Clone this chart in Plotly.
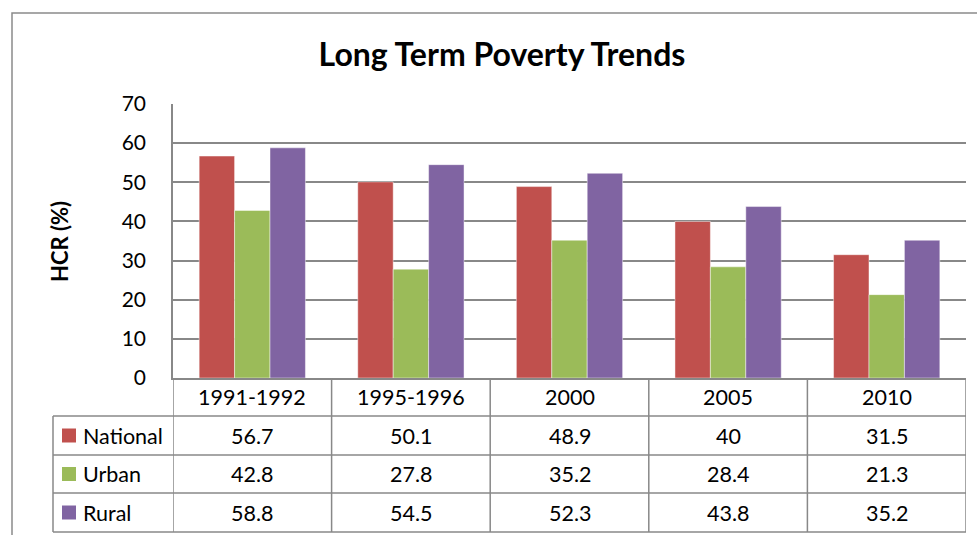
import plotly.graph_objects as go

categories = ["1991-1992", "1995-1996", "2000", "2005", "2010"]
national = [56.7, 50.1, 48.9, 40, 31.5]
urban = [42.8, 27.8, 35.2, 28.4, 21.3]
rural = [58.8, 54.5, 52.3, 43.8, 35.2]
series_names = ["National", "Urban", "Rural"]
series_values = [national, urban, rural]
colors = ["#C0504D", "#9BBB59", "#8064A2"]
y_ticks = [0, 10, 20, 30, 40, 50, 60, 70]

W, H = 977, 535
L, R, T, B = 173, 11, 104, 157
PW = W - L - R
PH = H - T - B
Y0 = H - B  # pixel y of axis bottom

def pyp(p):
    return (Y0 - p) / PH

def pxp(p):
    return (p - L) / PW

FONT = "Lato, Calibri, sans-serif"
GRID = "#888888"

fig = go.Figure()
for name, vals, col in zip(series_names, series_values, colors):
    fig.add_trace(go.Bar(
        x=categories, y=vals, name=name,
        marker=dict(color=col, line=dict(color="rgba(255,255,255,0.45)", width=1)),
        showlegend=False,
    ))

shapes = []
annotations = []

# outer chart border
shapes.append(dict(type="rect", xref="paper", yref="paper",
                   x0=pxp(12), x1=pxp(1000), y0=pyp(13), y1=pyp(560),
                   line=dict(color="#8a8a8a", width=1.5), layer="below"))

# table geometry
rows_y = [Y0, 416, 455, 493, 532]
n = len(categories)
for i, yy in enumerate(rows_y):
    if i == 0:
        continue
    shapes.append(dict(type="line", xref="paper", yref="paper",
                       x0=pxp(53), x1=1, y0=pyp(yy), y1=pyp(yy),
                       line=dict(color=GRID, width=1.5)))
for k in range(n + 1):
    shapes.append(dict(type="line", xref="x", yref="paper",
                       x0=k - 0.5, x1=k - 0.5, y0=pyp(Y0), y1=pyp(rows_y[-1]),
                       line=dict(color=GRID, width=1.5)))
shapes.append(dict(type="line", xref="paper", yref="paper",
                   x0=pxp(53), x1=pxp(53), y0=pyp(rows_y[1]), y1=pyp(rows_y[-1]),
                   line=dict(color=GRID, width=1.5)))

TF = dict(family=FONT, size=21.5, color="#000000")
for k, c in enumerate(categories):
    annotations.append(dict(xref="x", yref="paper", x=k, y=pyp((rows_y[0] + rows_y[1]) / 2),
                            text=c, showarrow=False, font=TF, xanchor="center", yanchor="middle"))
for r, (name, vals, col) in enumerate(zip(series_names, series_values, colors)):
    yc = (rows_y[r + 1] + rows_y[r + 2]) / 2
    shapes.append(dict(type="rect", xref="paper", yref="paper",
                       x0=pxp(62), x1=pxp(76), y0=pyp(yc - 7), y1=pyp(yc + 7),
                       fillcolor=col, line=dict(width=0)))
    annotations.append(dict(xref="paper", yref="paper", x=pxp(81), y=pyp(yc),
                            text=name, showarrow=False, font=TF, xanchor="left", yanchor="middle"))
    for k, v in enumerate(vals):
        annotations.append(dict(xref="x", yref="paper", x=k, y=pyp(yc),
                                text=f"{v:g}", showarrow=False, font=TF,
                                xanchor="center", yanchor="middle"))

annotations.append(dict(xref="paper", yref="paper", x=pxp(60), y=pyp(242),
                        text="<b>HCR (%)</b>", showarrow=False, textangle=-90,
                        font=dict(family=FONT, size=22, color="#000000"),
                        xanchor="center", yanchor="middle"))

fig.update_layout(
    width=W, height=H,
    margin=dict(l=L, r=R, t=T, b=B, pad=0),
    paper_bgcolor="white", plot_bgcolor="white",
    barmode="group", bargap=0.33, bargroupgap=0,
    title=dict(text="<b>Long Term Poverty Trends</b>", x=502 / W,
               xref="container", xanchor="center", y=1 - 55 / H, yref="container",
               yanchor="middle",
               font=dict(family=FONT, size=32, color="#000000")),
    xaxis=dict(showticklabels=False, showgrid=False, showline=True,
               linecolor=GRID, linewidth=1.5, ticks="", range=[-0.5, n - 0.5]),
    yaxis=dict(range=[0, 70], tickvals=y_ticks, showgrid=True, gridcolor=GRID,
               gridwidth=1.5, showline=True, linecolor=GRID, linewidth=1.5,
               ticks="", ticklabelstandoff=21, zeroline=False,
               tickfont=dict(family=FONT, size=21, color="#000000")),
    shapes=shapes, annotations=annotations,
)
fig.write_html("out.html", config={"displayModeBar": False},
               post_script="document.body.style.margin='0';document.body.style.overflow='hidden';")
